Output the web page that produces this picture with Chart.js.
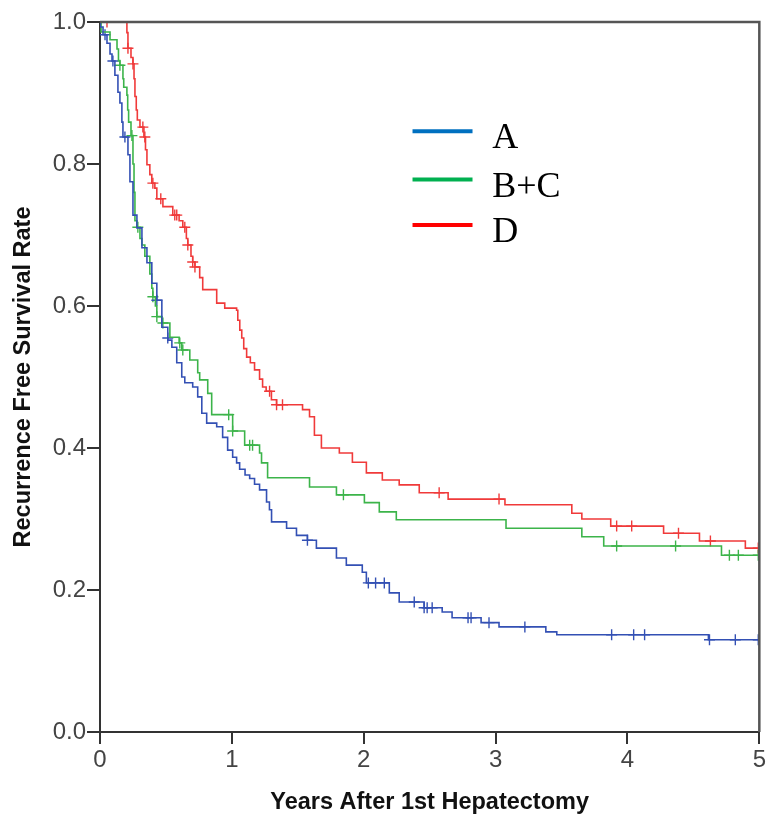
<!DOCTYPE html>
<html>
<head>
<meta charset="utf-8">
<script src="https://cdn.jsdelivr.net/npm/chart.js@4.4.1/dist/chart.umd.min.js"></script>
<style>
  html, body { margin: 0; padding: 0; background: #fff; }
</style>
</head>
<body>
<canvas id="kmChart" width="768" height="817"></canvas>
<script>
// groups shown in the legend
const groups = ['A', 'B+C', 'D']
const legendColors = ['#0070c0', '#00b050', '#ff0000']
const curveColors = ['#3350b4', '#3cb44a', '#f03a3a']

const yTicks = [0, 0.2, 0.4, 0.6, 0.8, 1.0]
const xTicks = [0, 1, 2, 3, 4, 5]

// group A: step times (years) and survival after each step
const aTimes = [0, 0.003, 0.023, 0.053, 0.076, 0.091, 0.113, 0.136, 0.151, 0.166, 0.174, 0.212, 0.227, 0.250, 0.280,
  0.318, 0.356, 0.393, 0.431, 0.469, 0.514, 0.545, 0.582, 0.620, 0.643, 0.703, 0.741, 0.772, 0.809, 0.885,
  0.930, 0.968, 1.006, 1.036, 1.059, 1.100, 1.135, 1.172, 1.210, 1.263, 1.285, 1.301, 1.415, 1.490, 1.573,
  1.641, 1.793, 1.868, 1.989, 2.020, 2.194, 2.269, 2.458, 2.595, 2.670, 2.890, 3.026, 3.381, 3.464, 4.614, 5.0]
const aSurv = [1.0, 0.993, 0.982, 0.970, 0.955, 0.945, 0.925, 0.901, 0.886, 0.859, 0.838, 0.813, 0.775, 0.728, 0.710,
  0.682, 0.661, 0.632, 0.608, 0.570, 0.552, 0.542, 0.520, 0.500, 0.492, 0.486, 0.472, 0.449, 0.435, 0.430,
  0.415, 0.397, 0.387, 0.379, 0.370, 0.362, 0.357, 0.349, 0.341, 0.324, 0.313, 0.296, 0.287, 0.277, 0.270,
  0.259, 0.245, 0.235, 0.225, 0.210, 0.196, 0.183, 0.175, 0.169, 0.161, 0.154, 0.148, 0.141, 0.137, 0.130, 0.130]
const aCensorT = [0.038, 0.098, 0.189, 0.431, 0.514, 1.573, 2.035, 2.090, 2.156, 2.383, 2.458, 2.481, 2.519, 2.791,
  2.814, 2.950, 3.222, 3.880, 4.047, 4.130, 4.622, 4.818, 4.992]
const aCensorS = [0.982, 0.945, 0.838, 0.608, 0.555, 0.270, 0.210, 0.210, 0.210, 0.183, 0.175, 0.175, 0.175, 0.161,
  0.161, 0.154, 0.148, 0.137, 0.137, 0.137, 0.130, 0.130, 0.130]

// group B+C
const bTimes = [0, 0.008, 0.076, 0.129, 0.140, 0.151, 0.174, 0.180, 0.204, 0.210, 0.217, 0.235, 0.250, 0.258, 0.265,
  0.280, 0.303, 0.318, 0.340, 0.378, 0.393, 0.401, 0.420, 0.431, 0.469, 0.530, 0.600, 0.620, 0.681, 0.741,
  0.756, 0.817, 0.847, 1.006, 1.097, 1.210, 1.225, 1.271, 1.589, 1.793, 2.005, 2.118, 2.247, 3.079, 3.654,
  3.820, 4.713, 5.0]
const bSurv = [1.0, 0.986, 0.975, 0.962, 0.945, 0.939, 0.920, 0.908, 0.897, 0.876, 0.859, 0.840, 0.800, 0.760, 0.720,
  0.711, 0.695, 0.686, 0.670, 0.645, 0.625, 0.613, 0.600, 0.585, 0.576, 0.556, 0.548, 0.538, 0.524, 0.506,
  0.496, 0.477, 0.447, 0.424, 0.404, 0.393, 0.379, 0.358, 0.345, 0.334, 0.323, 0.310, 0.299, 0.287, 0.275,
  0.262, 0.249, 0.249]
const bCensorT = [0.151, 0.242, 0.287, 0.401, 0.431, 0.477, 0.605, 0.628, 0.976, 1.006, 1.135, 1.157, 1.846, 3.918,
  4.365, 4.773, 4.841, 4.992]
const bCensorS = [0.939, 0.840, 0.711, 0.613, 0.585, 0.576, 0.548, 0.538, 0.447, 0.424, 0.404, 0.404, 0.334, 0.262,
  0.262, 0.249, 0.249, 0.249]

// group D
const dTimes = [0, 0.204, 0.212, 0.235, 0.250, 0.258, 0.265, 0.275, 0.283, 0.303, 0.333, 0.345, 0.356, 0.378, 0.393,
  0.416, 0.431, 0.477, 0.552, 0.600, 0.628, 0.655, 0.666, 0.690, 0.703, 0.720, 0.756, 0.779, 0.885, 0.946,
  1.036, 1.045, 1.060, 1.075, 1.090, 1.112, 1.140, 1.172, 1.210, 1.233, 1.260, 1.300, 1.339, 1.536, 1.589,
  1.626, 1.679, 1.815, 1.914, 2.020, 2.141, 2.269, 2.421, 2.640, 3.071, 3.578, 3.654, 3.873, 4.274, 4.546,
  4.894, 5.0]
const dSurv = [1.0, 0.985, 0.963, 0.950, 0.941, 0.920, 0.895, 0.876, 0.862, 0.852, 0.838, 0.820, 0.799, 0.785, 0.773,
  0.766, 0.751, 0.740, 0.728, 0.720, 0.711, 0.695, 0.686, 0.670, 0.662, 0.655, 0.640, 0.623, 0.604, 0.597,
  0.594, 0.580, 0.566, 0.555, 0.540, 0.528, 0.520, 0.510, 0.497, 0.486, 0.480, 0.468, 0.461, 0.454, 0.444,
  0.418, 0.400, 0.393, 0.380, 0.365, 0.355, 0.348, 0.337, 0.328, 0.320, 0.308, 0.300, 0.290, 0.280, 0.269,
  0.259, 0.259]
const dCensorT = [0.053, 0.212, 0.250, 0.325, 0.340, 0.401, 0.461, 0.567, 0.582, 0.643, 0.666, 0.703, 0.720, 1.286,
  1.339, 1.384, 2.572, 3.026, 3.918, 4.032, 4.387, 4.629, 4.992]
const dCensorS = [1.0, 0.963, 0.941, 0.852, 0.838, 0.773, 0.751, 0.728, 0.728, 0.711, 0.686, 0.662, 0.655, 0.480,
  0.461, 0.461, 0.337, 0.328, 0.290, 0.290, 0.280, 0.269, 0.259]

const curves = [[aTimes, aSurv], [bTimes, bSurv], [dTimes, dSurv]]
const censors = [[aCensorT, aCensorS], [bCensorT, bCensorS], [dCensorT, dCensorS]]

function toPoints(xs, ys) {
    return xs.map((x, i) => ({ x: x, y: ys[i] }))
}

let datasets = []
curves.forEach((c, i) => {
    datasets.push({
        label: groups[i],
        data: toPoints(c[0], c[1]),
        showLine: true,
        stepped: true,
        borderColor: curveColors[i],
        borderWidth: 1.6,
        pointRadius: 0,
        fill: false,
    })
})
censors.forEach((c, i) => {
    datasets.push({
        label: groups[i] + ' censored',
        data: toPoints(c[0], c[1]),
        showLine: false,
        pointStyle: 'cross',
        pointRadius: 5.5,
        pointBorderWidth: 1.4,
        pointBorderColor: curveColors[i],
        borderColor: curveColors[i],
    })
})

// top and right sides of the frame
const framePlugin = {
    id: 'frame',
    afterDraw(chart) {
        const { ctx, chartArea: a } = chart
        ctx.save()
        ctx.strokeStyle = '#555'
        ctx.lineWidth = 2.5
        ctx.beginPath()
        ctx.moveTo(a.left, a.top)
        ctx.lineTo(a.right, a.top)
        ctx.lineTo(a.right, a.bottom)
        ctx.stroke()
        ctx.restore()
    }
}

// legend sits inside the plot, to the right of the curves
const legendRows = [0.154, 0.222, 0.286]
const legendPlugin = {
    id: 'innerLegend',
    afterDraw(chart) {
        const { ctx, chartArea: a } = chart
        const w = a.right - a.left
        const h = a.bottom - a.top
        ctx.save()
        ctx.font = '36px "Liberation Serif", "Times New Roman", serif'
        ctx.textBaseline = 'alphabetic'
        ctx.textAlign = 'left'
        groups.forEach((g, i) => {
            const y = a.top + h * legendRows[i]
            ctx.strokeStyle = legendColors[i]
            ctx.lineWidth = 4
            ctx.beginPath()
            ctx.moveTo(a.left + w * 0.474, y)
            ctx.lineTo(a.left + w * 0.565, y)
            ctx.stroke()
            ctx.fillStyle = '#000'
            ctx.fillText(g, a.left + w * 0.595, y + 17)
        })
        ctx.restore()
    }
}

const tickFont = { family: '"Liberation Sans", Arial, sans-serif', size: 24 }
const titleFont = { family: '"Liberation Sans", Arial, sans-serif', size: 23.5, weight: 'bold' }

new Chart(document.getElementById('kmChart'), {
    type: 'scatter',
    data: { datasets: datasets },
    options: {
        responsive: false,
        animation: false,
        events: [],
        layout: { padding: { top: 22, right: 8, left: 0, bottom: 0 } },
        plugins: {
            legend: { display: false },
            tooltip: { enabled: false },
        },
        scales: {
            x: {
                type: 'linear',
                min: 0,
                max: 5,
                afterBuildTicks: (s) => { s.ticks = xTicks.map(v => ({ value: v })) },
                ticks: { color: '#444', font: tickFont, padding: 2, maxRotation: 0 },
                grid: { drawOnChartArea: false, tickLength: 12, color: '#333', lineWidth: 2 },
                border: { color: '#333', width: 2 },
                title: {
                    display: true,
                    text: 'Years After 1st Hepatectomy',
                    color: '#111',
                    font: titleFont,
                    padding: { top: 0, bottom: 0 },
                },
                afterFit: (s) => { s.height = 85 },
            },
            y: {
                type: 'linear',
                min: 0,
                max: 1,
                afterBuildTicks: (s) => { s.ticks = yTicks.map(v => ({ value: v })) },
                ticks: { color: '#444', font: tickFont, padding: 1, callback: (v) => v.toFixed(1) },
                grid: { drawOnChartArea: false, tickLength: 13, color: '#333', lineWidth: 2 },
                border: { color: '#333', width: 2 },
                title: {
                    display: true,
                    text: 'Recurrence Free Survival Rate',
                    color: '#111',
                    font: titleFont,
                    padding: { top: 9, bottom: 0 },
                },
                afterFit: (s) => { s.width = 100 },
            },
        },
    },
    plugins: [framePlugin, legendPlugin],
})
</script>
</body>
</html>
